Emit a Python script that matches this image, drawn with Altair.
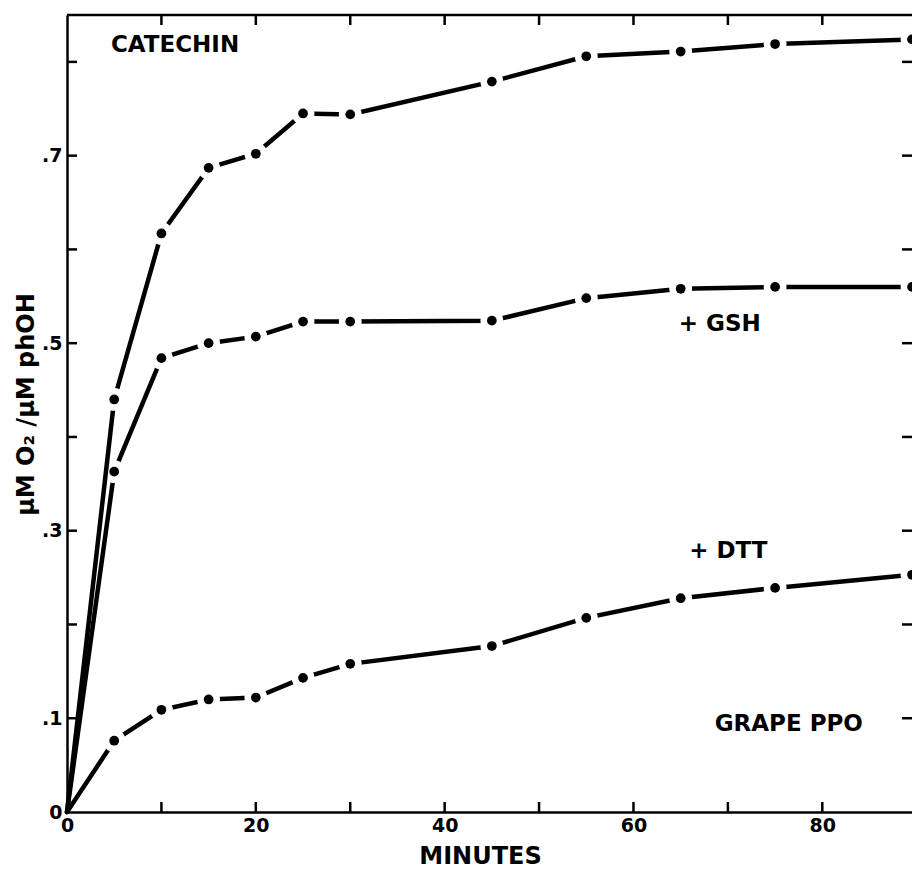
import altair as alt
import pandas as pd

# ---- data ----
minutes = [0, 5, 10, 15, 20, 25, 30, 45, 55, 65, 75, 89.5]
catechin = [0, 0.440, 0.617, 0.687, 0.702, 0.745, 0.744, 0.779, 0.806, 0.811, 0.819, 0.824]
gsh = [0, 0.363, 0.484, 0.500, 0.507, 0.523, 0.523, 0.524, 0.548, 0.558, 0.560, 0.560]
dtt = [0, 0.076, 0.109, 0.120, 0.122, 0.143, 0.158, 0.177, 0.207, 0.228, 0.239, 0.253]
series_order = ["+ DTT", "+ GSH", "CATECHIN"]

x_label_values = [0, 20, 40, 60, 80]
x_tick_values = [10, 20, 30, 40, 50, 60, 70, 80]
y_label_values = [0, 0.1, 0.3, 0.5, 0.7]
y_tick_values = [0.1, 0.2, 0.3, 0.4, 0.5, 0.6, 0.7, 0.8]

annotation_text = ["CATECHIN", "+ GSH", "+ DTT", "GRAPE PPO"]
annotation_x = [4.65, 64.8, 65.9, 68.6]
annotation_y = [0.818, 0.520, 0.278, 0.094]

# ---- layout / style ----
W, H = 845, 797
FONT = "DejaVu Sans"
INK = "black"
PAPER = "#ffffff"

rows = []
for name, vals in zip(series_order, [dtt, gsh, catechin]):
    for m, v in zip(minutes, vals):
        rows.append({"series": name, "minutes": m, "value": v})
df = pd.DataFrame(rows)

xs = alt.Scale(domain=[0, 89.5], nice=False, zero=False)
ys = alt.Scale(domain=[0, 0.85], nice=False, zero=False)

x_axis = alt.Axis(
    values=x_label_values, ticks=False, tickSize=0, grid=False,
    domainColor=INK, domainWidth=2.5,
    labelFont=FONT, labelFontSize=19, labelFontWeight="bold", labelColor=INK,
    labelPadding=4, labelFlush=False,
    title="MINUTES", titleFont=FONT, titleFontSize=24, titleFontWeight="bold",
    titleColor=INK, titleX=413, titleY=51, titleBaseline="alphabetic",
)
y_axis = alt.Axis(
    values=y_label_values, ticks=False, tickSize=0, grid=False,
    domainColor=INK, domainWidth=2.5,
    labelFont=FONT, labelFontSize=19, labelFontWeight="bold", labelColor=INK,
    labelPadding=5, labelFlush=False,
    labelExpr="datum.value == 0 ? '0' : replace(format(datum.value, '.1f'), '0.', '.')",
    title="μM O₂ /μM phOH", titleFont=FONT, titleFontSize=24, titleFontWeight="bold",
    titleColor=INK, titleX=-34, titleY=389, titleBaseline="alphabetic", titleAngle=270,
)

X = lambda f: alt.X(f, type="quantitative", scale=xs, axis=x_axis)
Y = lambda f: alt.Y(f, type="quantitative", scale=ys, axis=y_axis)

layers = []

# inward ticks
xt = pd.DataFrame({"t": x_tick_values})
yt = pd.DataFrame({"t": y_tick_values})
layers.append(alt.Chart(xt).mark_rule(color=INK, strokeWidth=2.5).encode(
    x=X("t"), y=alt.value(H), y2=alt.value(H - 10)))
layers.append(alt.Chart(xt).mark_rule(color=INK, strokeWidth=2.5).encode(
    x=X("t"), y=alt.value(0), y2=alt.value(10)))
layers.append(alt.Chart(yt).mark_rule(color=INK, strokeWidth=2.5).encode(
    y=Y("t"), x=alt.value(0), x2=alt.value(10)))
layers.append(alt.Chart(yt).mark_rule(color=INK, strokeWidth=2.5).encode(
    y=Y("t"), x=alt.value(W - 10), x2=alt.value(W)))
# top border
layers.append(alt.Chart(pd.DataFrame({"a": [0]})).mark_rule(color=INK, strokeWidth=2.5).encode(
    x=alt.value(0), x2=alt.value(W), y=alt.value(0)))

for name in series_order:
    sub = df[df["series"] == name]
    pts = sub[sub["minutes"] > 0]
    layers.append(alt.Chart(sub).mark_line(color=INK, strokeWidth=4.5, strokeCap="round").encode(
        x=X("minutes"), y=Y("value"), order="minutes:Q"))
    # white halo that opens a gap in the line around each dot
    layers.append(alt.Chart(pts).mark_point(
        shape="circle", filled=True, fill=PAPER, stroke=PAPER, strokeWidth=0,
        opacity=1, fillOpacity=1, size=520).encode(
        x=X("minutes"), y=Y("value")))
    layers.append(alt.Chart(pts).mark_circle(color=INK, opacity=1, size=95).encode(
        x=X("minutes"), y=Y("value")))

ann = pd.DataFrame({"text": annotation_text, "x": annotation_x, "y": annotation_y})
layers.append(alt.Chart(ann).mark_text(
    font=FONT, fontSize=23, fontWeight="bold", color=INK, align="left", baseline="middle"
).encode(x=X("x"), y=Y("y"), text="text:N"))

chart = alt.layer(*layers).properties(
    width=W, height=H,
    padding={"left": 59, "top": 7, "right": 0, "bottom": 57},
    autosize=alt.AutoSizeParams(type="none"),
).configure_view(stroke=None).configure(background=PAPER)

chart.save("out.html", embed_options={"renderer": "svg", "actions": False})
